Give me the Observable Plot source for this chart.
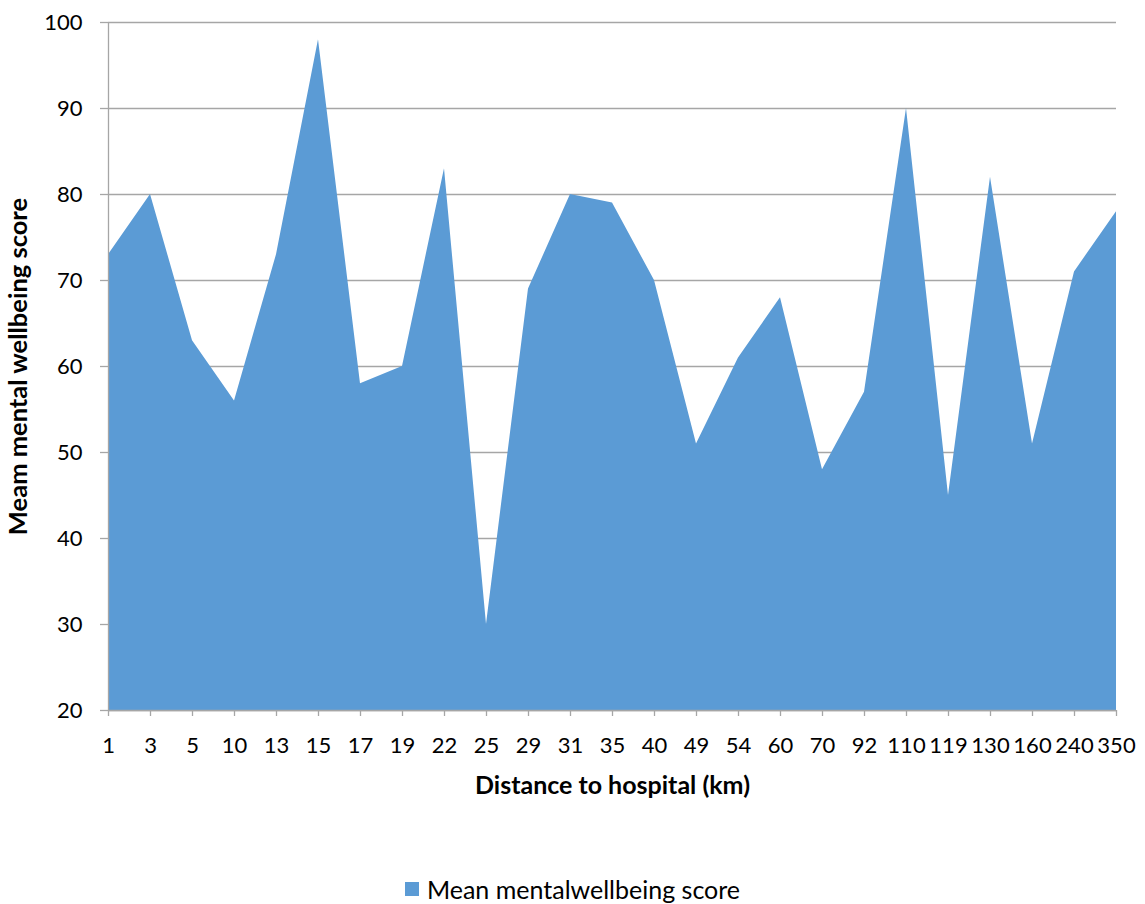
<!DOCTYPE html>
<html>
<head>
<meta charset="utf-8">
<script src="https://cdn.jsdelivr.net/npm/d3@7"></script>
<script src="https://cdn.jsdelivr.net/npm/@observablehq/plot@0.6"></script>
<style>
  html, body { margin: 0; padding: 0; background: #fff; }
  body { width: 1145px; height: 904px; font-family: Lato, "Open Sans", sans-serif; }
  #chart svg { display: block; }
  .legend { position: absolute; top: 873px; left: 0; width: 1145px; display: flex; justify-content: center; align-items: center; font-size: 25px; line-height: 32px; color: #000; }
  .legend .swatch { width: 14px; height: 14px; background: #5b9bd5; margin-right: 8px; }
</style>
</head>
<body>
<div id="chart"></div>
<div class="legend"><span class="swatch"></span><span>Mean mentalwellbeing score</span></div>
<script>
// Distance categories (km) and mean wellbeing score per category
const distances = ["1", "3", "5", "10", "13", "15", "17", "19", "22", "25", "29", "31", "35", "40", "49", "54", "60", "70", "92", "110", "119", "130", "160", "240", "350"];
const scores = [73, 80, 63, 56, 73, 98, 58, 60, 83, 30, 69, 80, 79, 70, 51, 61, 68, 48, 57, 90, 45, 82, 51, 71, 78];
const yTicks = [20, 30, 40, 50, 60, 70, 80, 90, 100];

const data = distances.map((d, i) => ({distance: d, score: scores[i]}));

const fill = "#5b9bd5";
const gridColor = "#a6a6a6";

const chart = Plot.plot({
  width: 1145,
  height: 830,
  marginLeft: 108,
  marginRight: 29,
  marginTop: 22,
  marginBottom: 120,
  style: {fontFamily: "Lato, 'Open Sans', sans-serif", fontSize: "22px", color: "#000", background: "#fff"},
  x: {type: "point", domain: distances, padding: 0},
  y: {domain: [20, 100]},
  marks: [
    Plot.gridY(yTicks, {stroke: gridColor, strokeOpacity: 1, strokeWidth: 1.3}),
    Plot.areaY(data, {x: "distance", y1: 20, y2: "score", fill: fill}),
    Plot.ruleX([distances[0]], {stroke: gridColor, strokeWidth: 1.3}),
    Plot.ruleY([20], {stroke: gridColor, strokeWidth: 1.3}),
    Plot.axisY(yTicks, {tickSize: 8, tickPadding: 18, stroke: gridColor, strokeWidth: 1.3, fontSize: 22, label: null}),
    Plot.axisX({tickSize: 6, tickPadding: 21, stroke: gridColor, strokeWidth: 1.3, fontSize: 22, label: null}),
    Plot.text(["Distance to hospital (km)"], {frameAnchor: "bottom", dy: 75, textAnchor: "middle", lineAnchor: "middle", fontWeight: "bold", fontSize: 25, fill: "#000"}),
    Plot.text(["Meam mental wellbeing score"], {frameAnchor: "left", dx: -90, rotate: -90, textAnchor: "middle", lineAnchor: "middle", fontWeight: "bold", fontSize: 25.5, fill: "#000"})
  ]
});

document.getElementById("chart").appendChild(chart);
</script>
</body>
</html>
